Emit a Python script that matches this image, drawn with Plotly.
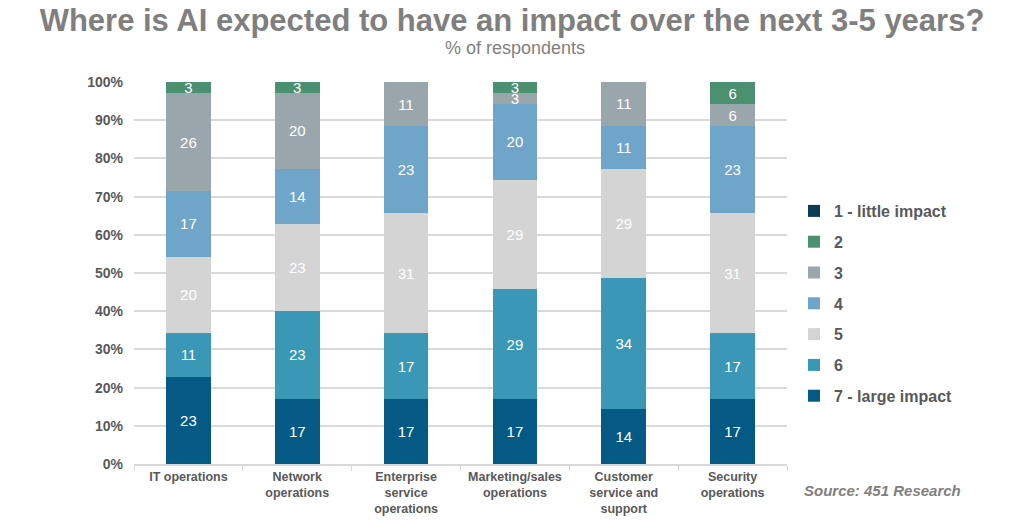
import plotly.graph_objects as go

categories = ["IT operations", "Network<br>operations", "Enterprise<br>service<br>operations",
              "Marketing/sales<br>operations", "Customer<br>service and<br>support", "Security<br>operations"]
series_names = ["1 - little impact", "2", "3", "4", "5", "6", "7 - large impact"]
# values in % of respondents per impact level
v1 = [0, 0, 0, 0, 0, 0]
v2 = [2.9, 2.9, 0, 2.9, 0, 5.7]
v3 = [25.7, 20.0, 11.4, 2.9, 11.4, 5.7]
v4 = [17.1, 14.3, 22.9, 20.0, 11.4, 22.9]
v5 = [20.0, 22.9, 31.4, 28.6, 28.6, 31.4]
v6 = [11.4, 22.9, 17.1, 28.6, 34.3, 17.1]
v7 = [22.9, 17.1, 17.1, 17.1, 14.3, 17.1]
colors = ["#0d3a55", "#4b9070", "#99a7ac", "#6fa5c9", "#d4d4d4", "#3a97b5", "#045a84"]

series_vals = [v1, v2, v3, v4, v5, v6, v7]

FONT = "Liberation Sans, Arial, sans-serif"

# page body has an 8px margin: work in figure pixels = target pixels - 8
W, H = 1008, 513
L, R, T, B = 126, 779, 74, 456

fig = go.Figure()
for i in reversed(range(7)):
    vals = series_vals[i]
    fig.add_trace(go.Bar(
        x=categories, y=vals, name="<b>" + series_names[i] + "</b>",
        marker=dict(color=colors[i], line=dict(width=0)),
        text=[(str(int(round(v))) if v > 0 else "") for v in vals],
        textposition="inside", insidetextanchor="middle", textangle=0,
        textfont=dict(color="white", size=15, family=FONT),
        legendgroup=series_names[i],
        legendrank=i + 1,
        hoverinfo="skip",
    ))

ph = B - T
pw = R - L
fig.update_layout(
    barmode="stack",
    bargap=0.59,
    width=W, height=H,
    margin=dict(l=L, r=W - R, t=T, b=H - B, autoexpand=False),
    plot_bgcolor="white", paper_bgcolor="white",
    uniformtext=dict(minsize=15, mode="show"),
    title=dict(text="<b>Where is AI expected to have an impact over the next 3-5 years?</b>",
               x=0.5, xanchor="center", y=1 - 12 / H, yanchor="middle",
               font=dict(family=FONT, size=31, color="#7f7f7f")),
    legend=dict(x=(786 - L) / pw, xanchor="left", y=1 - (186 - T) / ph, yanchor="top",
                traceorder="grouped", tracegroupgap=7,
                font=dict(family=FONT, size=16, color="#595959"),
                itemwidth=30),
    yaxis=dict(range=[0, 100], dtick=10, ticksuffix="%", showgrid=True,
               gridcolor="#d9d9d9", gridwidth=1.5, zeroline=False, automargin=False,
               tickfont=dict(family=FONT, size=14, color="#595959", weight="bold"),
               ticklabelstandoff=10),
    xaxis=dict(tickfont=dict(family=FONT, size=12.5, color="#595959", weight="bold"),
               showline=True, linecolor="#d9d9d9", linewidth=1.5, automargin=False,
               ticks="outside", tickson="boundaries", tickcolor="#d9d9d9", ticklen=5),
)
fig.add_annotation(text="% of respondents", xref="paper", yref="paper",
                   x=(507 - L) / pw, xanchor="center", y=1 + (T - 40) / ph, yanchor="middle",
                   showarrow=False, font=dict(family=FONT, size=18, color="#7f7f7f"))
fig.add_annotation(text="<b><i>Source: 451 Research</i></b>", xref="paper", yref="paper",
                   x=(794 - L) / pw, xanchor="left",
                   y=-(482 - B) / ph, yanchor="middle", showarrow=False,
                   font=dict(family=FONT, size=15, color="#808080"))

fig.write_html("out.html")
